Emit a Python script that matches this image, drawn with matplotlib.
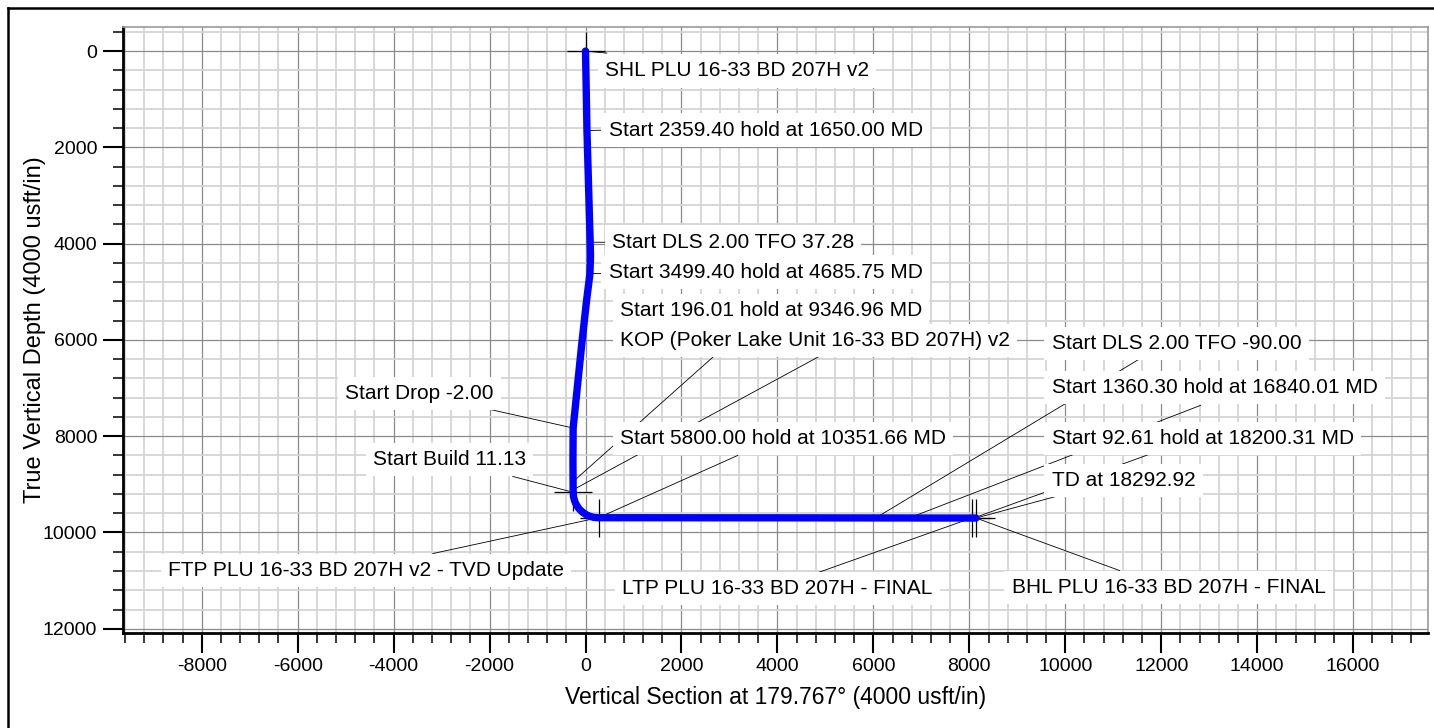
import matplotlib
matplotlib.use('Agg')
import matplotlib.pyplot as plt
from matplotlib.lines import Line2D
from matplotlib.ticker import MultipleLocator

plt.rcParams['font.family'] = ['Liberation Sans', 'DejaVu Sans']
plt.rcParams['axes.unicode_minus'] = False

# well path: vertical section (usft) vs true vertical depth (usft)
path_vs = [0, 30, 95, 104, 92, 21, -80, -258, -262, -258,
		   -250, -227, -189, -138, -74, 0, 81, 168, 257, 4000, 8140]
path_tvd = [0, 1650, 3900, 4250, 4625, 5190, 6100, 7830, 8500, 9165,
			9257, 9346, 9429, 9504, 9569, 9622, 9661, 9685, 9693, 9695, 9700]

# target / casing point crosses
marker_vs = [0, -258, 283, 8060, 8140]
marker_tvd = [0, 9165, 9690, 9695, 9700]

# annotations and the path point each one refers to
label_text = [
	"SHL PLU 16-33 BD 207H v2",
	"Start 2359.40 hold at 1650.00 MD",
	"Start DLS 2.00 TFO 37.28",
	"Start 3499.40 hold at 4685.75 MD",
	"Start 196.01 hold at 9346.96 MD",
	"KOP (Poker Lake Unit 16-33 BD 207H) v2",
	"Start Drop -2.00",
	"Start Build 11.13",
	"Start 5800.00 hold at 10351.66 MD",
	"FTP PLU 16-33 BD 207H v2 - TVD Update",
	"LTP PLU 16-33 BD 207H - FINAL",
	"BHL PLU 16-33 BD 207H - FINAL",
	"TD at 18292.92",
	"Start 92.61 hold at 18200.31 MD",
	"Start 1360.30 hold at 16840.01 MD",
	"Start DLS 2.00 TFO -90.00",
]
point_vs = [0, 30, 104, 92, -256, -252, -258, -258, 270, 283,
			8060, 8140, 8140, 8100, 6750, 6050]
point_tvd = [0, 1650, 3970, 4615, 8940, 9110, 7830, 9165, 9693, 9690,
			 9695, 9700, 9700, 9697, 9697, 9697]

# where each text sits (left edge, middle) and where its leader leaves it
text_pos = [(402, 410), (485, 1642), (548, 3971), (485, 4595),
			(715, 5385), (715, 6008), (-5014, 7110), (-4431, 8482),
			(715, 8046), (-8702, 10790), (757, 11164), (8881, 11143),
			(9715, 8919), (9715, 8046), (9715, 6985), (9715, 6071)]
leader_start = [(444, 42), (444, 1642), (423, 3971), (402, 4615),
				(3470, 5634), (5298, 6112), (-1994, 7443), (-1515, 8836),
				(3173, 8399), (-3181, 10437), (4673, 10894), (11131, 10790),
				(9881, 9231), (11860, 8337), (12818, 7360), (11673, 6320)]

fig = plt.figure(figsize=(14.34, 7.28), dpi=100)
ax = fig.add_axes([0.0858, 0.1310, 0.9100, 0.8319])

ax.set_xlim(-9640, 17560)
ax.set_ylim(12080, -500)

ax.xaxis.set_major_locator(MultipleLocator(2000))
ax.xaxis.set_minor_locator(MultipleLocator(400))
ax.yaxis.set_major_locator(MultipleLocator(2000))
ax.yaxis.set_minor_locator(MultipleLocator(400))

ax.grid(which='minor', color='#d4d4d4', linewidth=1.3, zorder=0)
ax.grid(which='major', color='#8a8a8a', linewidth=0.9, zorder=0)
ax.set_axisbelow(True)

ax.tick_params(which='major', direction='out', length=14.5, width=1.5,
			   labelsize=14, pad=4, color='black')
ax.tick_params(which='minor', direction='out', length=7.2, width=1.1, color='black')
ax.tick_params(top=False, right=False, which='both')

for side in ['left', 'bottom']:
	ax.spines[side].set_linewidth(2)
	ax.spines[side].set_color('black')
for side in ['top', 'right']:
	ax.spines[side].set_linewidth(1.2)
	ax.spines[side].set_color('#9a9a9a')

# leader lines first, then the path and crosses over them
for (x0, y0), x1, y1 in zip(leader_start, point_vs, point_tvd):
	ax.plot([x0, x1], [y0, y1], color='black', linewidth=0.6, zorder=2)

ax.plot(marker_vs, marker_tvd, linestyle='none', marker='+', markersize=27,
		markeredgewidth=0.9, color='black', zorder=3)

ax.plot(path_vs, path_tvd, color='#0000ff', linewidth=5.3,
		solid_capstyle='round', solid_joinstyle='round', zorder=4)

for txt, (tx, ty) in zip(label_text, text_pos):
	ax.text(tx, ty, txt, fontsize=15, ha='left', va='center', zorder=5,
			bbox=dict(facecolor='white', edgecolor='none', boxstyle='square,pad=0.35'))

ax.set_xlabel('Vertical Section at 179.767\u00b0 (4000 usft/in)', fontsize=16.5, labelpad=8)
ax.set_ylabel('True Vertical Depth (4000 usft/in)', fontsize=17)
ax.yaxis.set_label_coords(-0.059, 0.5)

# page frame
fig.add_artist(Line2D([8 / 1434, 8 / 1434], [0, 1 - 8 / 728], transform=fig.transFigure,
					  color='black', linewidth=1.8))
fig.add_artist(Line2D([8 / 1434, 1], [1 - 8 / 728, 1 - 8 / 728], transform=fig.transFigure,
					  color='black', linewidth=1.8))

fig.savefig('out.png', dpi=100)
